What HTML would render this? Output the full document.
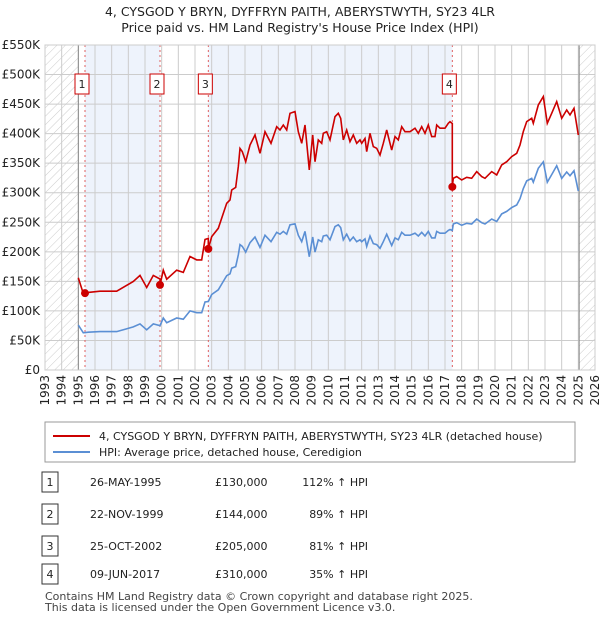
<!DOCTYPE html>
<html><head><meta charset="utf-8"><style>
body{margin:0;background:#fff;font-family:"Liberation Sans","DejaVu Sans",sans-serif;}
svg text{font-family:"DejaVu Sans","Liberation Sans",sans-serif;}
</style></head><body>
<svg id="c" width="600" height="620" xmlns="http://www.w3.org/2000/svg">
<defs><pattern id="hatch" width="6" height="6" patternUnits="userSpaceOnUse" patternTransform="rotate(45)"><line x1="0" y1="0" x2="0" y2="6" stroke="#ccc" stroke-width="1"/></pattern></defs>
<text x="300" y="16" text-anchor="middle" font-size="12.5" fill="#222">4, CYSGOD Y BRYN, DYFFRYN PAITH, ABERYSTWYTH, SY23 4LR</text>
<text x="300" y="32" text-anchor="middle" font-size="12.5" fill="#222">Price paid vs. HM Land Registry's House Price Index (HPI)</text>
<g id="plot"></g>
<g>
<rect x="45" y="422" width="530" height="40" fill="#fff" stroke="#999"/>
<line x1="53" y1="436" x2="90" y2="436" stroke="#cc0000" stroke-width="2"/>
<text x="99" y="440" font-size="11" fill="#222">4, CYSGOD Y BRYN, DYFFRYN PAITH, ABERYSTWYTH, SY23 4LR (detached house)</text>
<line x1="53" y1="452" x2="90" y2="452" stroke="#5b8fd4" stroke-width="2"/>
<text x="99" y="456" font-size="11" fill="#222">HPI: Average price, detached house, Ceredigion</text>
</g>
<g id="table" font-size="11" fill="#222"></g>
<text x="45" y="600" font-size="11" fill="#444">Contains HM Land Registry data © Crown copyright and database right 2025.</text>
<text x="45" y="611" font-size="11" fill="#444">This data is licensed under the Open Government Licence v3.0.</text>
</svg>
<script>
const hpiYears=[1995.0,1995.3,1995.6,1996.3,1997.3,1998.3,1998.7,1999.1,1999.5,1999.9,2000.1,2000.3,2000.9,2001.3,2001.7,2002.1,2002.4,2002.6,2002.8,
2003.0,2003.4,2003.7,2003.9,2004.1,2004.2,2004.44,2004.6,2004.7,2004.84,2005.04,2005.3,2005.6,2005.9,2006.2,2006.56,2006.9,2007.1,2007.3,2007.5,2007.7,
2008.0,2008.2,2008.4,2008.6,2008.86,2009.06,2009.2,2009.4,2009.6,2009.7,2009.9,2010.1,2010.4,2010.6,2010.74,2010.9,2011.1,2011.3,2011.5,2011.7,2011.9,2012.0,2012.2,2012.3,2012.5,2012.7,2012.9,2013.1,2013.3,2013.5,2013.7,2013.8,2014.0,2014.2,2014.4,2014.6,2014.9,2015.2,2015.4,2015.6,2015.8,2016.0,2016.2,2016.4,2016.5,2016.7,2017.0,2017.2,2017.3,2017.44,
2017.5,2017.7,2018.0,2018.3,2018.6,2018.9,2019.2,2019.4,2019.8,2020.1,2020.4,2020.7,2021.0,2021.3,2021.5,2021.7,2021.9,2022.2,2022.3,2022.6,2022.9,2023.14,2023.4,2023.7,2024.0,2024.3,2024.5,2024.74,2025.0];
const hpiValues=[76,63,64,65,65,73,78,68,78,75,88,80,88,86,100,97,97,115,116,
127.7,135.7,150.0,159.6,162.8,172.4,174.9,194.7,212.2,209.1,199.5,215.5,225.1,207.5,228.2,217.1,233.0,229.8,234.6,229.8,245.8,
247.4,228.2,217.1,234.6,191.6,225.1,199.5,220.3,217.1,226.7,228.2,220.3,242.6,245.8,241.0,220.3,229.8,218.7,225.1,217.1,220.3,217.1,221.8,209.1,226.7,213.9,212.3,205.9,217.1,229.8,217.1,210.7,223.5,220.3,233.0,228.2,228.2,231.5,226.7,233.0,226.7,234.6,223.5,223.5,234.6,231.5,231.5,236.2,237.8,236,
247.0,249.2,244.8,248.3,247.0,255.6,249.2,247.0,255.6,251.3,264.2,268.4,274.9,279.2,289.9,307.1,320.0,324.3,317.8,341.4,352.2,317.8,330.7,345.8,324.3,335.0,328.6,337.2,302.8];
const saleYears=[1995.4,1999.9,2002.8,2017.44];
const salePrices=[130,144,205,310];
const saleLabels=["1","2","3","4"];
const saleDates=["26-MAY-1995","22-NOV-1999","25-OCT-2002","09-JUN-2017"];
const salePriceText=["£130,000","£144,000","£205,000","£310,000"];
const saleHpiText=["112% ↑ HPI","89% ↑ HPI","81% ↑ HPI","35% ↑ HPI"];
const yTicks=[0,50,100,150,200,250,300,350,400,450,500,550];
const yTickLabels=["£0","£50K","£100K","£150K","£200K","£250K","£300K","£350K","£400K","£450K","£500K","£550K"];
const xTicks=[1993,1994,1995,1996,1997,1998,1999,2000,2001,2002,2003,2004,2005,2006,2007,2008,2009,2010,2011,2012,2013,2014,2015,2016,2017,2018,2019,2020,2021,2022,2023,2024,2025,2026];

const NS="http://www.w3.org/2000/svg";
const X0=45,X1=595,Y0=370,Y1=45;
const xs=y=>X0+(y-1993)/33*(X1-X0);
const ys=v=>Y0-v/550*(Y0-Y1);
const g=document.getElementById('plot');
function mk(tag,attrs,parent){const e=document.createElementNS(NS,tag);for(const k in attrs)e.setAttribute(k,attrs[k]);(parent||g).appendChild(e);return e;}
function hpiAt(t){for(let i=0;i<hpiYears.length-1;i++){if(t>=hpiYears[i]&&t<=hpiYears[i+1]){const f=(t-hpiYears[i])/(hpiYears[i+1]-hpiYears[i]);return hpiValues[i]+f*(hpiValues[i+1]-hpiValues[i]);}}return hpiValues[hpiValues.length-1];}
let sh1=mk('rect',{x:xs(saleYears[0]),y:Y1,width:xs(saleYears[1])-xs(saleYears[0]),height:Y0-Y1,fill:'#eef3fc'});


let sh2=mk('rect',{x:xs(saleYears[2]),y:Y1,width:xs(saleYears[3])-xs(saleYears[2]),height:Y0-Y1,fill:'#eef3fc'});


let h1=mk('rect',{x:X0,y:Y1,width:xs(1995)-X0,height:Y0-Y1,fill:'url(#hatch)'});


let h2=mk('rect',{x:xs(2025.05),y:Y1,width:X1-xs(2025.05),height:Y0-Y1,fill:'url(#hatch)'});


xTicks.forEach((t,i)=>{
 let l=mk('line',{x1:xs(t),x2:xs(t),y1:Y1,y2:Y0,stroke:'#ccc','stroke-width':1});
 
 
 let tx=mk('text',{x:0,y:0,transform:`translate(${xs(t)+4},${Y0+5}) rotate(-90)`,'text-anchor':'end','font-size':12,fill:'#222'});
 tx.textContent=t;
 
 
});
yTicks.forEach((v,i)=>{
 let l=mk('line',{x1:X0,x2:X1,y1:ys(v),y2:ys(v),stroke:'#ccc','stroke-width':1});
 
 
 let tx=mk('text',{x:40,y:ys(v)+4,'text-anchor':'end','font-size':12,fill:'#222'});
 tx.textContent=yTickLabels[i];
 
 
});
let b1=mk('line',{x1:xs(1995),x2:xs(1995),y1:Y1,y2:Y0,stroke:'#888','stroke-width':1});


let b2=mk('line',{x1:xs(2025.05),x2:xs(2025.05),y1:Y1,y2:Y0,stroke:'#888','stroke-width':1});


saleYears.forEach((t,i)=>{
 let l=mk('line',{x1:xs(t),x2:xs(t),y1:Y1,y2:Y0,stroke:'#e06060','stroke-width':1,'stroke-dasharray':'2,3'});
 
 
});
let pts=hpiYears.map((t,i)=>xs(t).toFixed(1)+','+ys(hpiValues[i]).toFixed(1)).join(' ');
let hl=mk('polyline',{points:pts,fill:'none',stroke:'#5b8fd4','stroke-width':1.6});


function factor(t){let k=0;for(let i=0;i<saleYears.length;i++){if(t>=saleYears[i]-1e-6)k=i;}return salePrices[k]/hpiAt(saleYears[k]);}
let times=hpiYears.slice();saleYears.forEach(s=>{times.push(s-0.001);times.push(s);});
times.sort((a,b)=>a-b);
let rp=times.map(t=>xs(t).toFixed(1)+','+ys(hpiAt(t)*factor(t)).toFixed(1)).join(' ');
let rl=mk('polyline',{points:rp,fill:'none',stroke:'#cc0000','stroke-width':1.6});


saleYears.forEach((t,i)=>{
 let c=mk('circle',{cx:xs(t),cy:ys(salePrices[i]),r:4,fill:'#cc0000'});
 
 
 let r=mk('rect',{x:xs(t)-10,y:74,width:14,height:20,fill:'#fff',stroke:'#cc0000'});
 
 
 let tx=mk('text',{x:xs(t)-3,y:88,'text-anchor':'middle','font-size':11,fill:'#222'});
 tx.textContent=saleLabels[i];
 
 
});
let pb=mk('rect',{x:X0,y:Y1,width:X1-X0,height:Y0-Y1,fill:'none',stroke:'#ccc'});


const tg=document.getElementById('table');
const rowsY=[482,514,546,574];
saleLabels.forEach((lab,i)=>{
 const y=rowsY[i];
 let r=mk('rect',{x:42,y:y-10,width:16,height:20,fill:'#fff',stroke:'#333'},tg);
 
 
 const cells=[[50,lab,'middle'],[90,saleDates[i],'start'],[215,salePriceText[i],'start'],[368,saleHpiText[i],'end']];
 cells.forEach(c=>{
  let tx=mk('text',{x:c[0],y:y+4,'text-anchor':c[2],'font-size':11,fill:'#222'},tg);
  tx.textContent=c[1];
  
  
 });
});
</script>
</body></html>
